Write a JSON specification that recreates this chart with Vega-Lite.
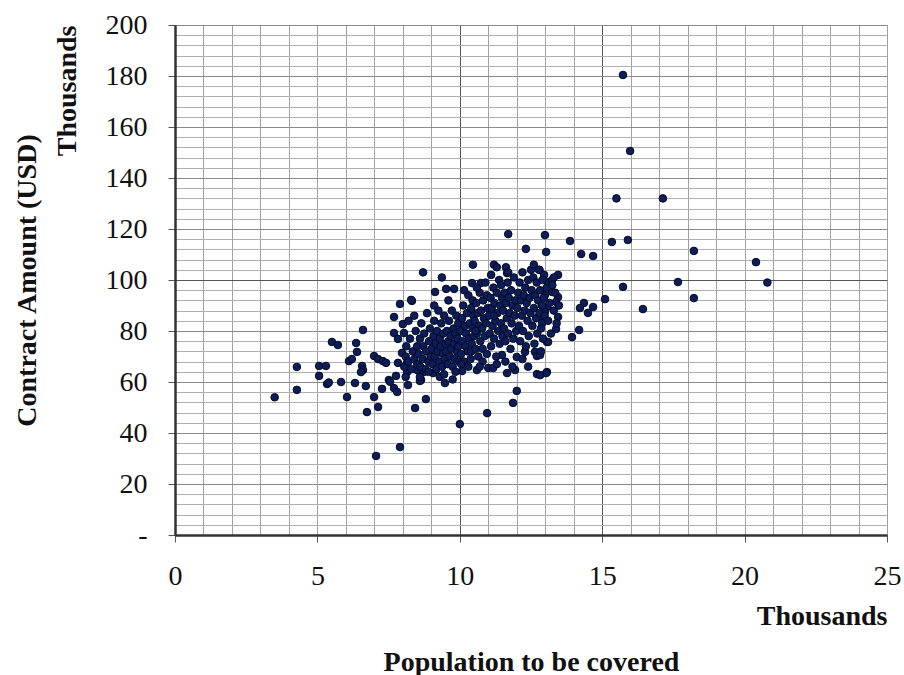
{
  "$schema": "https://vega.github.io/schema/vega-lite/v6.json",
  "width": 712,
  "height": 510,
  "autosize": {"type": "none"},
  "padding": {"left": 175, "top": 25, "right": 17, "bottom": 140},
  "background": "white",
  "config": {"view": {"stroke": "#9a9a9a", "strokeWidth": 1}},
  "data": {"values": [
    {"x":3.5,"y":54},{"x":4.28,"y":65.9},{"x":4.28,"y":56.9},{"x":5.06,"y":66.3},{"x":5.3,"y":66.3},{"x":5.06,"y":62.4},{"x":5.34,"y":59.2},{"x":5.4,"y":59.8},{"x":5.83,"y":60},{"x":6.32,"y":59.6},{"x":6.7,"y":58.4},{"x":6.04,"y":54.1},{"x":5.51,"y":75.7},{"x":5.72,"y":74.5},{"x":6.36,"y":75.3},{"x":6.6,"y":80.4},{"x":6.39,"y":71.8},{"x":6.11,"y":68.2},{"x":6.21,"y":69},{"x":6.57,"y":66.3},{"x":6.6,"y":64.7},{"x":6.53,"y":63.9},{"x":6.99,"y":70.2},{"x":7.13,"y":69},{"x":7.3,"y":68.2},{"x":7.41,"y":67.5},{"x":6.99,"y":54.1},{"x":7.13,"y":50.2},{"x":6.74,"y":48.2},{"x":7.06,"y":31},{"x":7.9,"y":34.5},{"x":7.27,"y":57.3},{"x":7.51,"y":60.8},{"x":7.69,"y":57.6},{"x":7.8,"y":56.1},{"x":7.55,"y":60.1},{"x":7.76,"y":62.4},{"x":7.9,"y":90.6},{"x":8.32,"y":91.8},{"x":7.69,"y":85.5},{"x":8.0,"y":82.7},{"x":7.69,"y":79.2},{"x":7.83,"y":76.9},{"x":8.04,"y":79.2},{"x":7.97,"y":71.4},{"x":7.83,"y":67.5},{"x":8.15,"y":67.5},{"x":8.15,"y":63.9},{"x":8.5,"y":64.7},{"x":8.74,"y":63.9},{"x":8.64,"y":60.8},{"x":8.18,"y":58.8},{"x":8.81,"y":53.3},{"x":8.43,"y":49.8},{"x":8.6,"y":60.4},{"x":9.06,"y":63.5},{"x":9.48,"y":59.6},{"x":10.08,"y":64.3},{"x":10.6,"y":64.7},{"x":11.0,"y":65.5},{"x":11.17,"y":65.5},{"x":11.66,"y":63.5},{"x":11.94,"y":64.7},{"x":12.71,"y":63.1},{"x":13.06,"y":63.9},{"x":10.0,"y":43.5},{"x":10.96,"y":47.8},{"x":12.0,"y":56.5},{"x":11.87,"y":51.8},{"x":11.48,"y":70.6},{"x":12.0,"y":69.8},{"x":12.29,"y":71.8},{"x":12.64,"y":71.8},{"x":12.71,"y":70.2},{"x":13.06,"y":75.7},
    {"x":8.71,"y":103},{"x":9.37,"y":101},{"x":9.13,"y":95.3},{"x":9.52,"y":96.5},{"x":9.8,"y":96.5},{"x":8.29,"y":92.2},{"x":10.46,"y":106},{"x":11.2,"y":106},{"x":11.3,"y":105},{"x":11.62,"y":105},{"x":11.66,"y":102.7},{"x":10.43,"y":98.8},{"x":10.74,"y":98.8},{"x":12.32,"y":112.2},{"x":11.7,"y":118},{"x":12.99,"y":117.6},{"x":13.03,"y":111},{"x":13.87,"y":115.3},{"x":14.26,"y":110.2},{"x":14.68,"y":109.4},{"x":15.34,"y":114.9},{"x":15.9,"y":115.7},{"x":18.22,"y":111.4},{"x":17.66,"y":99.2},{"x":18.22,"y":92.9},{"x":15.73,"y":97.3},{"x":15.1,"y":92.5},{"x":16.43,"y":88.6},{"x":14.36,"y":91},{"x":14.68,"y":89.4},{"x":14.22,"y":89},{"x":14.5,"y":87.1},{"x":14.19,"y":80.4},{"x":13.94,"y":77.6},{"x":13.45,"y":102},{"x":13.1,"y":99.2},{"x":13.24,"y":100},{"x":12.96,"y":102},{"x":12.8,"y":104},{"x":12.99,"y":94.1},{"x":13.24,"y":95.3},{"x":13.45,"y":93.3},{"x":13.38,"y":91.4},{"x":13.06,"y":89.4},{"x":12.99,"y":87.5},{"x":12.82,"y":85.5},{"x":13.45,"y":85.5},{"x":12.89,"y":83.1},{"x":13.38,"y":80.8},{"x":13.1,"y":75.7},{"x":12.82,"y":70.6},{"x":13.03,"y":63.5},{"x":12.82,"y":62.7},
    {"x":15.73,"y":180.4},{"x":15.98,"y":150.6},{"x":15.5,"y":132},{"x":17.13,"y":132},{"x":20.4,"y":107},{"x":20.8,"y":99},
    {"x":8.05,"y":66},{"x":8.1,"y":70},{"x":8.12,"y":74},{"x":8.2,"y":68},{"x":8.25,"y":77},{"x":8.3,"y":65},{"x":8.35,"y":72},{"x":8.4,"y":69},{"x":8.45,"y":80},{"x":8.5,"y":67},{"x":8.5,"y":74},{"x":8.2,"y":84},{"x":8.4,"y":86},{"x":8.1,"y":62},
    {"x":8.55,"y":71},{"x":8.6,"y":77},{"x":8.62,"y":66},{"x":8.65,"y":83},{"x":8.7,"y":69},{"x":8.72,"y":74},{"x":8.75,"y":79},{"x":8.8,"y":65},{"x":8.82,"y":72},{"x":8.85,"y":87},{"x":8.9,"y":68},{"x":8.92,"y":76},{"x":8.95,"y":81},{"x":8.98,"y":70},{"x":8.6,"y":62},{"x":8.9,"y":64},
    {"x":9.02,"y":73},{"x":9.05,"y":67},{"x":9.08,"y":78},{"x":9.1,"y":84},{"x":9.12,"y":70},{"x":9.15,"y":75},{"x":9.18,"y":65},{"x":9.2,"y":80},{"x":9.22,"y":72},{"x":9.25,"y":88},{"x":9.28,"y":68},{"x":9.3,"y":77},{"x":9.32,"y":74},{"x":9.35,"y":83},{"x":9.38,"y":66},{"x":9.4,"y":71},{"x":9.42,"y":79},{"x":9.45,"y":86},{"x":9.48,"y":69},{"x":9.5,"y":75},{"x":9.1,"y":90},{"x":9.3,"y":62},{"x":9.45,"y":63},
    {"x":9.52,"y":72},{"x":9.55,"y":80},{"x":9.58,"y":67},{"x":9.6,"y":76},{"x":9.62,"y":84},{"x":9.65,"y":70},{"x":9.68,"y":78},{"x":9.7,"y":73},{"x":9.72,"y":88},{"x":9.75,"y":66},{"x":9.78,"y":81},{"x":9.8,"y":75},{"x":9.82,"y":69},{"x":9.85,"y":79},{"x":9.88,"y":86},{"x":9.9,"y":72},{"x":9.92,"y":77},{"x":9.95,"y":83},{"x":9.98,"y":68},{"x":9.6,"y":92},{"x":9.85,"y":64},{"x":9.75,"y":61},{"x":9.95,"y":74},
    {"x":10.02,"y":80},{"x":10.05,"y":71},{"x":10.08,"y":85},{"x":10.1,"y":76},{"x":10.12,"y":90},{"x":10.15,"y":68},{"x":10.18,"y":82},{"x":10.2,"y":74},{"x":10.22,"y":79},{"x":10.25,"y":87},{"x":10.28,"y":72},{"x":10.3,"y":94},{"x":10.32,"y":77},{"x":10.35,"y":83},{"x":10.38,"y":69},{"x":10.4,"y":89},{"x":10.42,"y":75},{"x":10.45,"y":81},{"x":10.48,"y":86},{"x":10.5,"y":78},{"x":10.15,"y":96},{"x":10.3,"y":66},{"x":10.45,"y":92},{"x":10.05,"y":67},{"x":10.4,"y":72},
    {"x":10.52,"y":84},{"x":10.55,"y":73},{"x":10.58,"y":91},{"x":10.6,"y":79},{"x":10.62,"y":87},{"x":10.65,"y":70},{"x":10.68,"y":82},{"x":10.7,"y":95},{"x":10.72,"y":76},{"x":10.75,"y":88},{"x":10.78,"y":81},{"x":10.8,"y":73},{"x":10.82,"y":92},{"x":10.85,"y":85},{"x":10.88,"y":78},{"x":10.9,"y":99},{"x":10.92,"y":83},{"x":10.95,"y":71},{"x":10.98,"y":89},{"x":10.6,"y":97},{"x":10.8,"y":68},{"x":10.7,"y":66},{"x":10.95,"y":94},{"x":10.55,"y":80},
    {"x":11.02,"y":86},{"x":11.05,"y":79},{"x":11.08,"y":93},{"x":11.1,"y":74},{"x":11.12,"y":89},{"x":11.15,"y":82},{"x":11.18,"y":97},{"x":11.2,"y":77},{"x":11.22,"y":91},{"x":11.25,"y":84},{"x":11.28,"y":70},{"x":11.3,"y":95},{"x":11.32,"y":87},{"x":11.35,"y":80},{"x":11.38,"y":100},{"x":11.4,"y":75},{"x":11.42,"y":90},{"x":11.45,"y":83},{"x":11.48,"y":93},{"x":11.5,"y":78},{"x":11.1,"y":102},{"x":11.3,"y":67},{"x":11.45,"y":98},{"x":11.2,"y":86},
    {"x":11.52,"y":88},{"x":11.55,"y":81},{"x":11.58,"y":95},{"x":11.6,"y":76},{"x":11.62,"y":91},{"x":11.65,"y":85},{"x":11.68,"y":99},{"x":11.7,"y":79},{"x":11.72,"y":93},{"x":11.75,"y":87},{"x":11.78,"y":73},{"x":11.8,"y":96},{"x":11.82,"y":83},{"x":11.85,"y":90},{"x":11.88,"y":77},{"x":11.9,"y":101},{"x":11.92,"y":86},{"x":11.95,"y":92},{"x":11.98,"y":80},{"x":11.6,"y":68},{"x":11.85,"y":66},{"x":11.7,"y":103},
    {"x":12.02,"y":89},{"x":12.05,"y":95},{"x":12.08,"y":82},{"x":12.1,"y":99},{"x":12.12,"y":76},{"x":12.15,"y":92},{"x":12.18,"y":86},{"x":12.2,"y":103},{"x":12.22,"y":80},{"x":12.25,"y":94},{"x":12.28,"y":88},{"x":12.3,"y":97},{"x":12.32,"y":74},{"x":12.35,"y":91},{"x":12.38,"y":84},{"x":12.4,"y":100},{"x":12.42,"y":78},{"x":12.45,"y":93},{"x":12.48,"y":87},{"x":12.5,"y":104},{"x":12.2,"y":69},{"x":12.4,"y":66},
    {"x":12.52,"y":96},{"x":12.55,"y":82},{"x":12.58,"y":101},{"x":12.6,"y":89},{"x":12.62,"y":75},{"x":12.65,"y":94},{"x":12.68,"y":85},{"x":12.7,"y":99},{"x":12.72,"y":79},{"x":12.75,"y":92},{"x":12.78,"y":104},{"x":12.8,"y":87},{"x":12.82,"y":96},{"x":12.85,"y":81},{"x":12.88,"y":90},{"x":12.9,"y":100},{"x":12.92,"y":77},{"x":12.95,"y":93},{"x":12.98,"y":86},{"x":12.6,"y":106},{"x":12.85,"y":72},
    {"x":13.05,"y":97},{"x":13.1,"y":84},{"x":13.15,"y":91},{"x":13.2,"y":79},{"x":13.25,"y":98},{"x":13.3,"y":88},{"x":13.35,"y":95},{"x":13.4,"y":83},{"x":13.48,"y":90},{"x":13.3,"y":101}
  ]},
  "layer": [
    {
      "mark": {"type": "circle", "size": 58, "color": "#0c1d5a", "opacity": 1, "stroke": "#040a22", "strokeWidth": 1},
      "encoding": {
        "x": {"field": "x", "type": "quantitative",
          "scale": {"domain": [0, 25], "nice": false, "zero": false},
          "axis": {
            "orient": "bottom",
            "values": [0,1,2,3,4,5,6,7,8,9,10,11,12,13,14,15,16,17,18,19,20,21,22,23,24,25],
            "grid": true,
            "gridColor": {"condition": {"test": "datum.value===10||datum.value===15", "value": "#555555"}, "value": "#a0a0a0"},
            "gridWidth": 1,
            "domainColor": "#333333", "domainWidth": 2.5,
            "tickColor": "#555555", "tickSize": 7, "tickWidth": 1,
            "tickOpacity": {"condition": {"test": "datum.value%5===0", "value": 1}, "value": 0},
            "labelExpr": "datum.value%5===0?datum.label:''",
            "labelFont": "Liberation Serif", "labelFontSize": 28, "labelColor": "#111111",
            "labelPadding": 20, "labelFlush": false, "labelOverlap": false,
            "title": "Thousands", "titleAnchor": "end",
            "titleFont": "Liberation Serif", "titleFontSize": 28, "titleFontWeight": "bold", "titleColor": "#111111",
            "titlePadding": 12
          }
        },
        "y": {"field": "y", "type": "quantitative",
          "scale": {"domain": [0, 200], "nice": false, "zero": true},
          "axis": {
            "orient": "left",
            "values": [0,4,8,12,16,20,24,28,32,36,40,44,48,52,56,60,64,68,72,76,80,84,88,92,96,100,104,108,112,116,120,124,128,132,136,140,144,148,152,156,160,164,168,172,176,180,184,188,192,196,200],
            "grid": true,
            "gridColor": {"condition": [{"test": "datum.value===100", "value": "#555555"}, {"test": "datum.value%20===0", "value": "#8a8a8a"}], "value": "#b0b0b0"},
            "gridWidth": 1,
            "domainColor": "#333333", "domainWidth": 2.5,
            "tickColor": "#555555", "tickSize": 7, "tickWidth": 1,
            "tickOpacity": {"condition": {"test": "datum.value%20===0", "value": 1}, "value": 0},
            "labelExpr": "datum.value===0?'-':(datum.value%20===0?datum.label:'')",
            "labelFont": "Liberation Serif", "labelFontSize": 28, "labelColor": "#111111",
            "labelPadding": 21, "labelFlush": false, "labelOverlap": false,
            "title": "Thousands", "titleAnchor": "end",
            "titleFont": "Liberation Serif", "titleFontSize": 28, "titleFontWeight": "bold", "titleColor": "#111111",
            "titlePadding": 24
          }
        }
      }
    },
    {
      "mark": {"type": "circle", "opacity": 0},
      "encoding": {
        "x": {"field": "x", "type": "quantitative",
          "axis": {"orient": "bottom", "labels": false, "ticks": false, "domain": false, "grid": false,
            "title": "Population to be covered", "titleAnchor": "middle",
            "titleFont": "Liberation Serif", "titleFontSize": 28, "titleFontWeight": "bold", "titleColor": "#111111",
            "titlePadding": 113}
        },
        "y": {"field": "y", "type": "quantitative",
          "axis": {"orient": "left", "labels": false, "ticks": false, "domain": false, "grid": false,
            "title": "Contract Amount (USD)", "titleAnchor": "middle",
            "titleFont": "Liberation Serif", "titleFontSize": 28, "titleFontWeight": "bold", "titleColor": "#111111",
            "titlePadding": 134}
        }
      }
    }
  ],
  "resolve": {"axis": {"x": "independent", "y": "independent"}}
}
